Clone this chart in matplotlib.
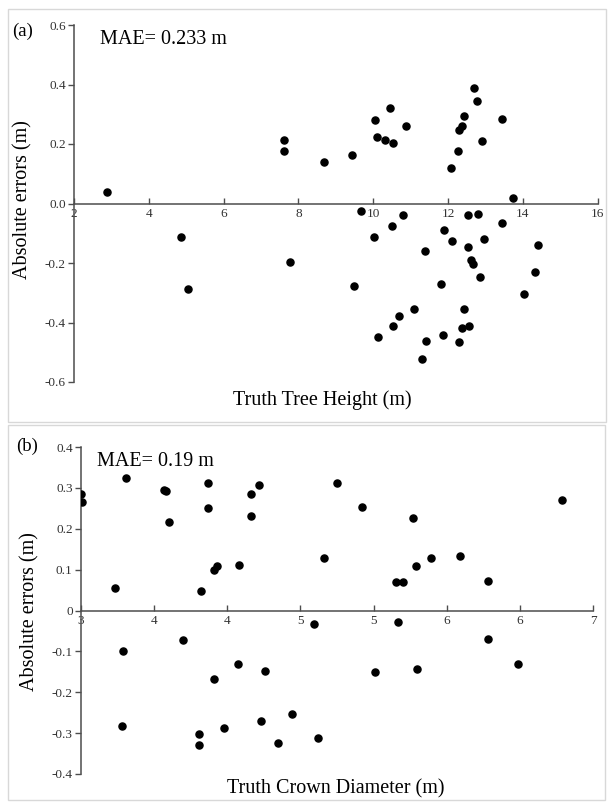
import numpy as np
import matplotlib.pyplot as plt
from matplotlib.patches import Rectangle

plt.rcParams['font.family'] = ['Liberation Serif', 'DejaVu Serif']

# (a) tree height vs absolute error
height_x = [2.88, 7.61, 7.61, 8.69, 9.42, 10.04, 10.11, 10.32, 10.45, 10.54, 10.88,
            12.07, 12.27, 12.30, 12.37, 12.42, 12.70, 12.78, 12.91, 13.44, 13.74,
            9.68, 10.79, 12.53, 12.80, 10.49, 13.44, 10.02, 11.89, 12.11, 12.97,
            11.39, 12.53, 14.41, 12.61, 12.66, 14.32, 12.86, 9.49, 11.82, 14.02,
            11.10, 12.42, 10.69, 10.54, 12.37, 12.55, 10.13, 11.87, 11.42, 12.30,
            11.30, 4.86, 5.04, 7.77]
height_err = [0.038, 0.215, 0.177, 0.138, 0.163, 0.281, 0.222, 0.214, 0.322, 0.205, 0.260,
              0.118, 0.178, 0.246, 0.260, 0.293, 0.389, 0.343, 0.210, 0.285, 0.019,
              -0.024, -0.039, -0.040, -0.035, -0.074, -0.064, -0.111, -0.090, -0.127, -0.118,
              -0.159, -0.147, -0.141, -0.191, -0.205, -0.231, -0.248, -0.276, -0.272, -0.304,
              -0.355, -0.353, -0.378, -0.413, -0.417, -0.413, -0.448, -0.442, -0.461, -0.465,
              -0.523, -0.112, -0.288, -0.197]

# (b) crown diameter vs absolute error
crown_x = [3.00, 3.01, 3.31, 3.23, 3.57, 3.58, 3.60, 3.87, 3.87, 3.82, 3.91, 3.93,
           4.08, 4.16, 4.16, 4.22, 4.75, 4.92, 5.27, 6.29, 4.66, 5.39, 5.59, 5.29,
           5.15, 5.20, 5.78, 3.29, 3.70, 4.07, 3.91, 4.26, 3.28, 3.81, 3.81, 3.98,
           4.23, 4.44, 4.35, 4.59, 5.17, 5.78, 5.01, 5.30, 5.99, 4.62]
crown_err = [0.285, 0.266, 0.323, 0.054, 0.294, 0.292, 0.217, 0.311, 0.251, 0.047, 0.098, 0.108,
             0.112, 0.285, 0.232, 0.306, 0.312, 0.252, 0.226, 0.270, 0.128, 0.128, 0.134, 0.108,
             0.070, 0.070, 0.072, -0.100, -0.071, -0.130, -0.168, -0.148, -0.283, -0.302, -0.328, -0.288,
             -0.270, -0.252, -0.324, -0.032, -0.029, -0.069, -0.151, -0.143, -0.130, -0.311]

a_xticks = [2, 4, 6, 8, 10, 12, 14, 16]
a_xlabels = ['2', '4', '6', '8', '10', '12', '14', '16']
a_yticks = [-0.6, -0.4, -0.2, 0.0, 0.2, 0.4, 0.6]
a_ylabels = ['-0.6', '-0.4', '-0.2', '0.0', '0.2', '0.4', '0.6']
b_xticks = [3, 3.5, 4, 4.5, 5, 5.5, 6, 6.5]
b_xlabels = ['3', '4', '4', '5', '5', '6', '6', '7']
b_yticks = [-0.4, -0.3, -0.2, -0.1, 0, 0.1, 0.2, 0.3, 0.4]
b_ylabels = ['-0.4', '-0.3', '-0.2', '-0.1', '0', '0.1', '0.2', '0.3', '0.4']

W, H = 610, 802
fig = plt.figure(figsize=(6.1, 8.02), dpi=100)

def fx(px):
    return px / W

def fy(py):
    return 1 - py / H

# panel frames
for (x0, y0, x1, y1) in [(8, 9, 606, 422), (8, 425, 605, 800)]:
    fig.patches.append(Rectangle((fx(x0), fy(y1)), fx(x1 - x0), (y1 - y0) / H,
                                 transform=fig.transFigure, fill=False,
                                 edgecolor='#d8d8d8', linewidth=1.0))

def style(ax, xt, xl, yt, yl):
    for s in ['top', 'right']:
        ax.spines[s].set_visible(False)
    ax.spines['bottom'].set_position(('data', 0))
    for s in ['left', 'bottom']:
        ax.spines[s].set_color('#4d4d4d')
        ax.spines[s].set_linewidth(1.1)
    ax.set_xticks(xt)
    ax.set_xticklabels(xl)
    ax.set_yticks(yt)
    ax.set_yticklabels(yl)
    ax.tick_params(axis='x', direction='in', length=4, width=1, color='#4d4d4d',
                   labelsize=9.5, labelcolor='#333333', pad=3)
    ax.tick_params(axis='y', direction='out', length=4, width=1, color='#4d4d4d',
                   labelsize=9.5, labelcolor='#333333', pad=2)

# (a)
ax1 = fig.add_axes([fx(74), fy(382), fx(597.7 - 74), (382 - 25) / H])
ax1.scatter(height_x, height_err, s=26, color='black', zorder=3)
ax1.set_xlim(2, 16)
ax1.set_ylim(-0.6, 0.6)
style(ax1, a_xticks, a_xlabels, a_yticks, a_ylabels)

# (b)
ax2 = fig.add_axes([fx(81), fy(774), fx(593 - 81), (774 - 447) / H])
ax2.scatter(crown_x, crown_err, s=26, color='black', zorder=3)
ax2.set_xlim(3, 6.5)
ax2.set_ylim(-0.4, 0.4)
style(ax2, b_xticks, b_xlabels, b_yticks, b_ylabels)

fig.text(fx(12), fy(31), '(a)', fontsize=13.5, va='center', ha='left')
fig.text(fx(100), fy(40), 'MAE= 0.233 m', fontsize=14.5, va='center', ha='left')
fig.text(fx(322), fy(400), 'Truth Tree Height (m)', fontsize=14.5, va='center', ha='center')
fig.text(fx(23), fy(200), 'Absolute errors (m)', fontsize=14.5, va='center', ha='center', rotation=90)

fig.text(fx(16), fy(446), '(b)', fontsize=13.5, va='center', ha='left')
fig.text(fx(97), fy(461), 'MAE= 0.19 m', fontsize=14.5, va='center', ha='left')
fig.text(fx(336), fy(789), 'Truth Crown Diameter (m)', fontsize=14.5, va='center', ha='center')
fig.text(fx(30), fy(612), 'Absolute errors (m)', fontsize=14.5, va='center', ha='center', rotation=90)

fig.savefig('out.png', dpi=100)
